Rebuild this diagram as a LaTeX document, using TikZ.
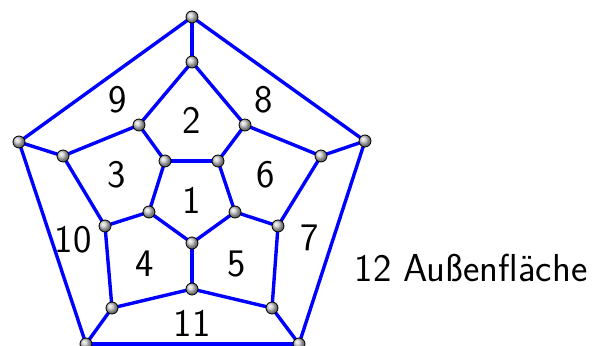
\documentclass[tikz,border=0pt]{standalone}
\usepackage{tikz}
\usetikzlibrary{backgrounds}
\definecolor{edgeBlue}{HTML}{0000FF}
\tikzset{
  vtx/.style={circle, draw=black, line width=0.4pt, inner sep=0pt, minimum size=6pt,
    shading=ball, ball color=gray!40},
  kante/.style={edgeBlue, line width=1.7pt},
  flabel/.style={font=\sffamily\fontsize{19.5}{21}\selectfont, inner sep=0pt}
}

\begin{document}
\begin{tikzpicture}[x=0.5pt, y=-0.5pt]
  \useasboundingbox (0,0) rectangle (598,346);
  % outer pentagon
  \node[vtx] (oT)  at (192,17)  {};
  \node[vtx] (oR)  at (365,141) {};
  \node[vtx] (oBR) at (299,344) {};
  \node[vtx] (oBL) at (86,344)  {};
  \node[vtx] (oL)  at (19,142)  {};
  % middle ring
  \node[vtx] (mT)  at (192,62)  {};
  \node[vtx] (mUR) at (245,125) {};
  \node[vtx] (mR)  at (321,156) {};
  \node[vtx] (mLR) at (278,226) {};
  \node[vtx] (mBR) at (272,308) {};
  \node[vtx] (mB)  at (192,289) {};
  \node[vtx] (mBL) at (112,308) {};
  \node[vtx] (mLL) at (105,226) {};
  \node[vtx] (mL)  at (63,156)  {};
  \node[vtx] (mUL) at (139,125) {};
  % inner pentagon
  \node[vtx] (iTL) at (165,161) {};
  \node[vtx] (iTR) at (218,161) {};
  \node[vtx] (iR)  at (235,212) {};
  \node[vtx] (iB)  at (192,243) {};
  \node[vtx] (iL)  at (149,212) {};
  % edges behind the points
  \begin{scope}[on background layer]
    \foreach \a/\b in {oT/oR, oR/oBR, oBR/oBL, oBL/oL, oL/oT,
                       oT/mT, oR/mR, oBR/mBR, oBL/mBL, oL/mL,
                       mT/mUR, mUR/mR, mR/mLR, mLR/mBR, mBR/mB,
                       mB/mBL, mBL/mLL, mLL/mL, mL/mUL, mUL/mT,
                       mUL/iTL, mUR/iTR, mLR/iR, mB/iB, mLL/iL,
                       iTL/iTR, iTR/iR, iR/iB, iB/iL, iL/iTL}
      \draw[kante] (\a.center) -- (\b.center);
  \end{scope}
  % face numbers
  \node[flabel] (f1)  at (192,200) {1};
  \node[flabel] (f2)  at (192,120) {2};
  \node[flabel] (f3)  at (117,175) {3};
  \node[flabel] (f4)  at (145,264) {4};
  \node[flabel] (f5)  at (237,264) {5};
  \node[flabel] (f6)  at (266,175) {6};
  \node[flabel] (f7)  at (310,238) {7};
  \node[flabel] (f8)  at (264,100) {8};
  \node[flabel] (f9)  at (118,100) {9};
  \node[flabel] (f10) at (73,240)  {10};
  \node[flabel] (f11) at (192,323) {11};
  \node[flabel] (f12) at (471,268) {12 Außenfläche};
\end{tikzpicture}
\end{document}
